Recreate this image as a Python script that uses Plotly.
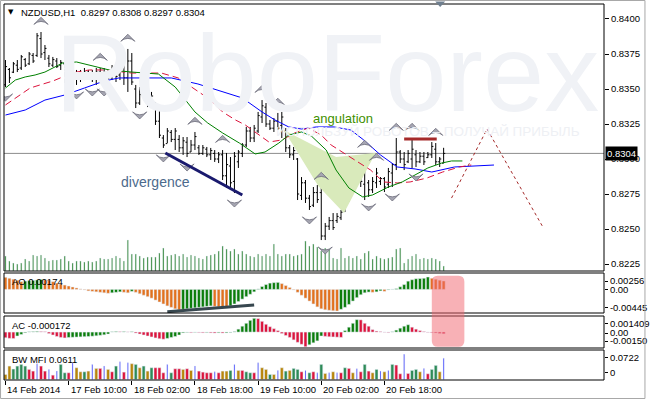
import plotly.graph_objects as go

# ---------------- data ----------------
TITLE = "NZDUSD,H1  0.8297 0.8308 0.8297 0.8304"
BAR_IDX = list(range(112))
OPEN = [0.8353,0.8364,0.8362,0.8367,0.8365,0.8371,0.8368,0.8374,0.8374,0.8386,
        0.8376,0.8372,0.8367,0.8370,0.8367,0.8368,0.8359,0.8362,0.8357,0.8361,
        0.8358,0.8362,0.8360,0.8357,0.8362,0.8359,0.8362,0.8358,0.8364,0.8360,
        0.8365,0.8358,0.8370,0.8350,0.8340,0.8346,0.8344,0.8340,0.8340,0.8327,
        0.8315,0.8311,0.8319,0.8314,0.8314,0.8308,0.8312,0.8305,0.8310,0.8308,
        0.8304,0.8307,0.8303,0.8304,0.8300,0.8303,0.8288,0.8295,0.8284,0.8298,
        0.8304,0.8310,0.8320,0.8315,0.8320,0.8330,0.8337,0.8325,0.8322,0.8327,
        0.8324,0.8320,0.8308,0.8303,0.8300,0.8274,0.8283,0.8272,0.8267,0.8276,
        0.8276,0.8245,0.8252,0.8256,0.8256,0.8258,0.8264,0.8280,0.8288,0.8285,
        0.8290,0.8282,0.8283,0.8278,0.8283,0.8284,0.8286,0.8282,0.8290,0.8296,
        0.8305,0.8300,0.8298,0.8300,0.8303,0.8298,0.8302,0.8301,0.8303,0.8307,
        0.8298,0.8297]
HIGH = [0.83707,0.83650,0.83693,0.83707,0.83743,0.83721,0.83764,0.83757,0.83900,0.83907,
        0.83814,0.83743,0.83729,0.83721,0.83707,0.83686,0.83671,0.83686,0.83636,0.83636,
        0.83650,0.83636,0.83636,0.83650,0.83650,0.83650,0.83636,0.83671,0.83686,0.83686,
        0.83693,0.83786,0.83757,0.83529,0.83514,0.83514,0.83493,0.83479,0.83407,0.83350,
        0.83171,0.83221,0.83207,0.83221,0.83171,0.83157,0.83157,0.83136,0.83193,0.83100,
        0.83100,0.83086,0.83079,0.83064,0.83050,0.83064,0.83043,0.83014,0.83050,0.83064,
        0.83114,0.83229,0.83229,0.83243,0.83336,0.83421,0.83400,0.83279,0.83293,0.83329,
        0.83336,0.83221,0.83100,0.83086,0.83007,0.82871,0.82850,0.82743,0.82800,0.82814,
        0.82800,0.82543,0.82586,0.82614,0.82614,0.82636,0.82829,0.82921,0.82921,0.82936,
        0.82921,0.83029,0.82850,0.82871,0.82936,0.82871,0.82871,0.82936,0.82971,0.83150,
        0.83064,0.83050,0.83064,0.83150,0.83064,0.83050,0.83050,0.83050,0.83121,0.83114,
        0.83014,0.83080]
LOW = [0.83514,0.83543,0.83614,0.83621,0.83636,0.83657,0.83671,0.83686,0.83729,0.83721,
       0.83707,0.83657,0.83657,0.83650,0.83636,0.83543,0.83586,0.83550,0.83529,0.83550,
       0.83564,0.83579,0.83550,0.83529,0.83564,0.83550,0.83543,0.83564,0.83550,0.83564,
       0.83529,0.83479,0.83529,0.83364,0.83386,0.83421,0.83371,0.83386,0.83243,0.83150,
       0.83079,0.83114,0.83121,0.83064,0.83050,0.83029,0.83014,0.83050,0.83064,0.83029,
       0.83029,0.83014,0.82993,0.82979,0.82971,0.82850,0.82793,0.82800,0.82757,0.82936,
       0.83014,0.83086,0.83121,0.83121,0.83186,0.83257,0.83229,0.83207,0.83193,0.83207,
       0.83150,0.83050,0.83007,0.82993,0.82707,0.82707,0.82686,0.82636,0.82657,0.82686,
       0.82421,0.82421,0.82493,0.82493,0.82543,0.82564,0.82621,0.82693,0.82800,0.82829,
       0.82800,0.82707,0.82729,0.82757,0.82793,0.82814,0.82764,0.82793,0.82800,0.82921,
       0.82971,0.82921,0.82971,0.82936,0.82943,0.82971,0.82957,0.83007,0.83007,0.82957,
       0.82943,0.82970]
CLOSE = [0.8366,0.8358,0.8368,0.8364,0.8373,0.8367,0.8375,0.8370,0.8388,0.8375,
         0.8379,0.8368,0.8371,0.8366,0.8369,0.8357,0.8364,0.8357,0.8361,0.8357,
         0.8362,0.8360,0.8357,0.8362,0.8359,0.8362,0.8358,0.8364,0.8359,0.8365,
         0.8358,0.8370,0.8355,0.8340,0.8346,0.8344,0.8340,0.8345,0.8327,0.8317,
         0.8310,0.8320,0.8314,0.8320,0.8308,0.8313,0.8304,0.8310,0.8316,0.8304,
         0.8308,0.8303,0.8306,0.8300,0.8303,0.8288,0.8296,0.8283,0.8302,0.8305,
         0.8310,0.8320,0.8315,0.8322,0.8331,0.8338,0.8325,0.8322,0.8327,0.8322,
         0.8330,0.8308,0.8303,0.8306,0.8275,0.8283,0.8272,0.8266,0.8276,0.8271,
         0.8245,0.8252,0.8256,0.8251,0.8259,0.8262,0.8280,0.8288,0.8283,0.8290,
         0.8284,0.8295,0.8278,0.8284,0.8290,0.8286,0.8280,0.8291,0.8296,0.8305,
         0.8300,0.8296,0.8304,0.8307,0.8298,0.8302,0.8298,0.8303,0.8309,0.8298,
         0.8300,0.8304]
VOLUME = [150,100,80,70,80,120,100,160,150,160,
          130,100,110,110,120,150,100,80,100,100,
          90,100,90,100,130,120,120,130,150,130,
          100,310,170,170,150,130,140,140,140,180,
          230,150,160,170,150,170,140,160,150,130,
          120,150,160,170,200,250,220,200,220,170,
          200,170,150,140,170,150,170,150,270,170,
          150,170,170,150,160,170,300,250,270,240,
          200,230,220,130,120,230,130,150,130,150,
          120,180,200,120,150,130,120,130,140,220,
          230,80,120,150,170,120,130,120,130,120,
          100,50]

# Alligator lines (bar position, price)
JAW_X = [0,5,10,15,20,25,28.75,42,48.75,55,60,65,68.25,71.75,75,78.75,83.25,87.5,90.75,95,99.25,103.75,108,113.75,118.75,123.75]
JAW_Y = [0.83314,0.83350,0.83421,0.83457,0.83507,0.83557,0.83579,0.83579,0.83536,0.83479,0.83436,0.83336,0.83279,0.83229,0.83214,0.83229,0.83229,0.83207,0.83136,0.83029,0.82943,0.82929,0.82907,0.82943,0.82950,0.82957]
TEETH_X = [0,2.5,4.25,6.25,8.75,12,14.5,18,21.25,25.5,32,39.5,43.75,48.75,52,55,58.25,60.75,66.75,70,73.25,76.75,80,82.5,85.75,89.25,92.5,95.75,99.25,102.5,106.75,110.75,115,118]
TEETH_Y = [0.83386,0.83436,0.83471,0.83507,0.83529,0.83557,0.83586,0.83621,0.83636,0.83636,0.83614,0.83614,0.83579,0.83486,0.83421,0.83336,0.83279,0.83243,0.83121,0.83136,0.83186,0.83221,0.83171,0.83100,0.83043,0.82979,0.82921,0.82836,0.82829,0.82836,0.82864,0.82907,0.82943,0.82957]
LIPS_X = [0,2.5,5,7.5,10,12.5,14.5,18,21.25,23.75,26.25,32,38.75,43,45.5,48,51.25,55,59.25,63.25,65.75,69.25,71.75,75,77.5,81.25,83.75,87,90.5,93,97,100.5,103.75,107,110.5,113,115.75]
LIPS_Y = [0.83507,0.83564,0.83586,0.83600,0.83621,0.83657,0.83686,0.83693,0.83671,0.83650,0.83636,0.83621,0.83607,0.83514,0.83421,0.83336,0.83257,0.83186,0.83114,0.83036,0.83050,0.83114,0.83171,0.83193,0.83164,0.83064,0.82921,0.82793,0.82729,0.82743,0.82800,0.82836,0.82886,0.82936,0.82971,0.82986,0.82986]

FRACTAL_UP = [9,24,31,48,55,65,69,80,91,94,99,103,109]
FRACTAL_DOWN = [0,18,22,25,34,40,46,58,77,81,92,98,104]

# drawn objects
DIV_X = [40.5, 60]
DIV_Y = [0.83043, 0.82743]
RES_X = [101, 109.25]
RES_Y = [0.83143, 0.83143]
FC_X = [113, 122, 136]
FC_Y = [0.82721, 0.83214, 0.82521]
ANG_X = [70.5, 83.75, 93.75, 85.75, 79.25]
ANG_Y = [0.83207, 0.83014, 0.83043, 0.82614, 0.82807]
BID = 0.8304
PRICE_TICKS = [0.8225, 0.8250, 0.8275, 0.8300, 0.8325, 0.8350, 0.8375, 0.8400]

AO = [0.00250,0.00230,0.00210,0.00190,0.00160,0.00170,0.00180,0.00185,0.00195,0.00205,
      0.00200,0.00190,0.00160,0.00130,0.00110,0.00090,0.00070,0.00050,0.00030,0.00010,
      -0.00010,-0.00030,-0.00040,-0.00050,-0.00060,-0.00070,-0.00080,-0.00070,-0.00060,-0.00050,
      -0.00060,-0.00070,-0.00040,-0.00060,-0.00090,-0.00120,-0.00150,-0.00180,-0.00220,-0.00260,
      -0.00300,-0.00340,-0.00370,-0.00400,-0.00420,-0.00410,-0.00400,-0.00390,-0.00380,-0.00370,
      -0.00360,-0.00350,-0.00340,-0.00350,-0.00360,-0.00370,-0.00380,-0.00340,-0.00300,-0.00250,
      -0.00200,-0.00150,-0.00100,-0.00050,0.00010,0.00060,0.00100,0.00130,0.00140,0.00145,
      0.00120,0.00080,0.00040,-0.00010,-0.00060,-0.00120,-0.00180,-0.00240,-0.00300,-0.00360,
      -0.00400,-0.00420,-0.00430,-0.00440,-0.00445,-0.00410,-0.00370,-0.00310,-0.00240,-0.00170,
      -0.00110,-0.00070,-0.00055,-0.00060,-0.00050,-0.00030,-0.00040,-0.00010,0.00005,0.00015,
      0.00055,0.00100,0.00170,0.00200,0.00220,0.00225,0.00230,0.00256,0.00230,0.00210,
      0.00190,0.00174]
AO_DIV_X = [41, 63]
AO_DIV_Y = [-0.00460, -0.00321]
AO_LABELS = [0.00256, 0.0, -0.00445]

AC = [-0.000580,-0.000640,-0.000660,-0.000400,-0.000240,-0.000070,0.000030,0.000050,0.000070,0.000060,
      0.000040,-0.000150,-0.000300,-0.000450,-0.000550,-0.000600,-0.000550,-0.000530,-0.000510,-0.000490,
      -0.000470,-0.000450,-0.000420,-0.000380,-0.000330,-0.000280,-0.000200,0.000030,0.000060,0.000040,
      0.000050,0.000020,0.000040,-0.000100,-0.000200,-0.000300,-0.000400,-0.000500,-0.000600,-0.000680,
      -0.000730,-0.000650,-0.000550,-0.000450,-0.000300,-0.000080,-0.000040,-0.000060,-0.000030,-0.000050,
      -0.000070,-0.000050,-0.000080,-0.000100,-0.000070,-0.000100,-0.000080,-0.000050,0.000050,0.000300,
      0.000600,0.000900,0.001200,0.001409,0.001380,0.001100,0.000800,0.000550,0.000350,0.000150,
      -0.000150,-0.000350,-0.000550,-0.000800,-0.001050,-0.001250,-0.001500,-0.001300,-0.001100,-0.000900,
      -0.000400,-0.000440,-0.000480,-0.000500,-0.000520,-0.000540,0.000150,0.000500,0.000900,0.001270,
      0.001250,0.000900,0.000600,0.000250,0.000100,0.000050,-0.000020,-0.000050,0.000030,0.000200,
      0.000400,0.000600,0.000750,0.000500,0.000300,0.000150,0.000050,-0.000030,-0.000060,-0.000090,
      -0.000140,-0.000172]
AC_LABELS = [0.001409, 0.0, -0.00150]

BW = [0.0144,0.0385,0.0300,0.0385,0.0433,0.0385,0.0289,0.0241,0.0453,0.0385,
      0.0241,0.0289,0.0125,0.0241,0.0433,0.0193,0.0193,0.0482,0.0337,0.0221,
      0.0221,0.0241,0.0433,0.0318,0.0318,0.0385,0.0289,0.0221,0.0385,0.0510,
      0.0212,0.0482,0.0453,0.0433,0.0337,0.0385,0.0241,0.0337,0.0337,0.0337,
      0.0193,0.0433,0.0193,0.0308,0.0308,0.0289,0.0308,0.0260,0.0385,0.0241,
      0.0212,0.0193,0.0193,0.0221,0.0193,0.0241,0.0241,0.0260,0.0433,0.0260,
      0.0260,0.0221,0.0193,0.0193,0.0482,0.0337,0.0289,0.0144,0.0144,0.0260,
      0.0337,0.0241,0.0260,0.0318,0.0289,0.0221,0.0260,0.0193,0.0221,0.0193,
      0.0433,0.0173,0.0193,0.0221,0.0193,0.0193,0.0337,0.0318,0.0193,0.0308,
      0.0221,0.0433,0.0241,0.0193,0.0289,0.0241,0.0221,0.0260,0.0433,0.0414,
      0.0164,0.0722,0.0173,0.0260,0.0289,0.0221,0.0318,0.0164,0.0289,0.0404,
      0.0221,0.0611]
# G = green (MFI up, vol up), F = fade, B = fake, S = squat
BW_STATE = ("FFGGGGSSBS" "SBSBGGSBFF" "GFBFSBFSGB" "SBFGFGFGSS" "SBGSSFSFBS"
            "SSSBSFFGBF" "SGGSBFFGFB" "FGFGGSBGSB" "GFBFBSGSFB" "SGSFGBFBGS"
            "SBSGGFBSGG" "FB")
BW_LABELS = [0.0722, 0.0]

TICK_IDX = [0, 16, 32, 48, 64, 80, 96]
TICK_TEXT = ["14 Feb 2014", "17 Feb 10:00", "18 Feb 02:00", "18 Feb 18:00",
             "19 Feb 10:00", "20 Feb 02:00", "20 Feb 18:00"]
AO_TEXT = "AO 0.00174"
AC_TEXT = "AC -0.000172"
BW_TEXT = "BW MFI 0.0611"

# ---------------- layout geometry / style ----------------
W, H = 654, 400
ML, MR, MT, MB = 4, 42, 4, 20
PW, PH = W - ML - MR, H - MT - MB
FONT = "Liberation Sans, Arial, sans-serif"
FS = 9.5


def py(ypx):
    return (H - MB - ypx) / PH


def pxp(xpx):
    return (xpx - ML) / PW


DOM_MAIN = [py(271), 1.0]
DOM_AO = [py(313), py(273)]
DOM_AC = [py(348), py(316)]
DOM_BW = [0.0, py(350)]
XR = [-0.375, 151.625]
PR_RANGE = [0.82200, 0.841071]
AO_RANGE = [-0.004862, 0.003385]
AC_RANGE = [-0.00163, 0.001645]
BW_RANGE = [-0.0014, 0.0845]


def per_px(rng, dom):
    return (rng[1] - rng[0]) / ((dom[1] - dom[0]) * PH)


GREEN = "#0a7d0a"
ORANGE = "#e2711d"
RED = "#dc143c"
BW_COL = {"G": "#2e8b57", "F": "#b8860b", "B": "#0000ff", "S": "#dc143c"}

fig = go.Figure()

# angulation highlight
fig.add_trace(go.Scatter(x=ANG_X + ANG_X[:1], y=ANG_Y + ANG_Y[:1], mode="lines",
                         fill="toself", fillcolor="#d9eabb", line=dict(width=0),
                         xaxis="x", yaxis="y2", hoverinfo="skip"))
# volumes
fig.add_trace(go.Bar(x=BAR_IDX, y=VOLUME, marker_color="#006a00", width=0.3,
                     xaxis="x", yaxis="y"))
# alligator
fig.add_trace(go.Scatter(x=JAW_X, y=JAW_Y, mode="lines", line=dict(color="#0000ff", width=1),
                         xaxis="x", yaxis="y2"))
fig.add_trace(go.Scatter(x=TEETH_X, y=TEETH_Y, mode="lines",
                         line=dict(color=RED, width=1, dash="7px,4px"), xaxis="x", yaxis="y2"))
fig.add_trace(go.Scatter(x=LIPS_X, y=LIPS_Y, mode="lines", line=dict(color="#008000", width=1),
                         xaxis="x", yaxis="y2"))
# price bars
fig.add_trace(go.Ohlc(x=BAR_IDX, open=OPEN, high=HIGH, low=LOW, close=CLOSE,
                      increasing=dict(line=dict(color="black", width=1)),
                      decreasing=dict(line=dict(color="black", width=1)),
                      tickwidth=0.4, xaxis="x", yaxis="y2"))
# fractals
fig.add_trace(go.Scatter(x=FRACTAL_UP, y=[HIGH[i] + 0.00105 for i in FRACTAL_UP], mode="markers",
                         marker=dict(symbol="arrow-wide", size=10, color="#a6a6b2",
                                     line=dict(color="#6e6e7c", width=0.8)),
                         xaxis="x", yaxis="y2"))
fig.add_trace(go.Scatter(x=FRACTAL_DOWN, y=[LOW[i] - 0.00100 for i in FRACTAL_DOWN], mode="markers",
                         marker=dict(symbol="arrow-wide", size=10, angle=180, color="#a6a6b2",
                                     line=dict(color="#6e6e7c", width=0.8)),
                         xaxis="x", yaxis="y2"))
# drawings
fig.add_trace(go.Scatter(x=DIV_X, y=DIV_Y, mode="lines", line=dict(color="#1a1a6e", width=3),
                         xaxis="x", yaxis="y2"))
fig.add_trace(go.Scatter(x=RES_X, y=RES_Y, mode="lines", line=dict(color="#a52a2a", width=3),
                         xaxis="x", yaxis="y2"))
fig.add_trace(go.Scatter(x=FC_X, y=FC_Y, mode="lines", line=dict(color="#a52a2a", width=1, dash="dot"),
                         xaxis="x", yaxis="y2"))

# AO
ao_col = [ORANGE if i == 0 or AO[i] <= AO[i - 1] else GREEN for i in BAR_IDX]
fig.add_trace(go.Bar(x=BAR_IDX, y=AO, marker_color=ao_col, width=0.75, xaxis="x2", yaxis="y3"))
fig.add_trace(go.Scatter(x=AO_DIV_X, y=AO_DIV_Y, mode="lines", line=dict(color="#37474f", width=3),
                         xaxis="x2", yaxis="y3"))
# AC
ac_col = [RED if i == 0 or AC[i] <= AC[i - 1] else GREEN for i in BAR_IDX]
fig.add_trace(go.Bar(x=BAR_IDX, y=AC, marker_color=ac_col, width=0.75, xaxis="x3", yaxis="y4"))
# BW MFI
fig.add_trace(go.Bar(x=BAR_IDX, y=BW, marker_color=[BW_COL[s] for s in BW_STATE],
                     width=[0.25 if s == "B" else 0.75 for s in BW_STATE],
                     xaxis="x4", yaxis="y5"))

ax_common = dict(range=XR, showgrid=False, zeroline=False, showticklabels=False,
                 fixedrange=True, showline=False)
tickfont = dict(family=FONT, size=FS, color="black")


def sub_y(dom, rng, labels, fmt, insets):
    k = per_px(rng, dom)
    vals = [v - ins * k for v, ins in zip(labels, insets)]
    return dict(domain=dom, range=rng, side="right", showgrid=False, zeroline=False,
                tickvals=vals, ticktext=[fmt(v) for v in labels], ticks="outside",
                ticklen=3, tickcolor="black", tickfont=tickfont, showline=False)


fig.update_layout(
    width=W, height=H, margin=dict(l=ML, r=MR, t=MT, b=MB),
    paper_bgcolor="white", plot_bgcolor="white", showlegend=False, barmode="overlay",
    xaxis=dict(**ax_common, anchor="y", rangeslider=dict(visible=False)),
    xaxis2=dict(**ax_common, anchor="y3", matches="x"),
    xaxis3=dict(**ax_common, anchor="y4", matches="x"),
    xaxis4=dict(range=XR, showgrid=False, zeroline=False, showticklabels=False, anchor="y5",
                matches="x", tickvals=TICK_IDX, ticks="outside", ticklen=4, tickcolor="black"),
    yaxis=dict(domain=DOM_MAIN, range=[0, 2670], visible=False),
    yaxis2=dict(domain=DOM_MAIN, range=PR_RANGE, overlaying="y", side="right", anchor="x",
                showgrid=False, zeroline=False, tickvals=PRICE_TICKS,
                ticktext=[f"{v:.4f}" for v in PRICE_TICKS], ticks="outside", ticklen=4,
                tickcolor="black", tickfont=tickfont),
    yaxis3=sub_y(DOM_AO, AO_RANGE, AO_LABELS,
                 lambda v: "0.00" if v == 0 else f"{v:.5f}", [4, 0, -3.3]),
    yaxis4=sub_y(DOM_AC, AC_RANGE, AC_LABELS,
                 lambda v: "0.00" if v == 0 else (f"{v:.6f}" if v > 0 else f"{v:.5f}"), [5, 1, -5.7]),
    yaxis5=sub_y(DOM_BW, BW_RANGE, BW_LABELS,
                 lambda v: "0" if v == 0 else f"{v:.4f}", [3.4, -6.8]),
)

shapes = []
for dom in (DOM_MAIN, DOM_AO, DOM_AC, DOM_BW):
    shapes.append(dict(type="rect", xref="paper", yref="paper", x0=0, x1=1, y0=dom[0], y1=dom[1],
                       line=dict(color="black", width=1), layer="above"))
shapes.append(dict(type="line", xref="paper", yref="y2", x0=0, x1=1, y0=BID, y1=BID,
                   line=dict(color="#8c8c8c", width=1), layer="below"))
# highlight box across AO / AC
bx0, bx1 = 108.0, 116.25
by0, by1 = py(346.7), py(275.7)
rx, ry = 1.5, 6 / PH
shapes.append(dict(type="path", xref="x", yref="paper", layer="above",
                   path=(f"M{bx0+rx},{by0} L{bx1-rx},{by0} Q{bx1},{by0} {bx1},{by0+ry} "
                         f"L{bx1},{by1-ry} Q{bx1},{by1} {bx1-rx},{by1} L{bx0+rx},{by1} "
                         f"Q{bx0},{by1} {bx0},{by1-ry} L{bx0},{by0+ry} Q{bx0},{by0} {bx0+rx},{by0} Z"),
                   fillcolor="rgba(242,100,110,0.5)", line=dict(width=0)))
# chart-shift marker on top border
shapes.append(dict(type="path", xref="paper", yref="paper",
                   path=f"M{pxp(441)},{py(1.5)} L{pxp(451)},{py(1.5)} L{pxp(446)},{py(7)} Z",
                   fillcolor="#6f7f8f", line=dict(width=0)))
# outer window frame
shapes.append(dict(type="rect", xref="paper", yref="paper", x0=pxp(0.5), x1=pxp(653.5),
                   y0=py(398.5), y1=py(0.5), line=dict(color="#a8a8a8", width=1)))
fig.update_layout(shapes=shapes)

ann = []
# watermark
ann.append(dict(text="RoboForex", xref="paper", yref="paper", x=pxp(54), y=py(72),
                xanchor="left", yanchor="middle", showarrow=False,
                font=dict(family=FONT, size=110, color="#f0f2f6")))
ann.append(dict(text="ИСПОЛЬЗУЙ РОБОТОВ – ПОЛУЧАЙ ПРИБЫЛЬ", xref="paper", yref="paper",
                x=pxp(590), y=py(131), xanchor="right", yanchor="middle", showarrow=False,
                font=dict(family=FONT, size=13.5, color="#eef0f4")))
ann.append(dict(text="▼", xref="paper", yref="paper", x=pxp(11), y=py(12), xanchor="center",
                yanchor="middle", showarrow=False, font=dict(family="DejaVu Sans", size=7, color="black")))
ann.append(dict(text=TITLE, xref="paper", yref="paper", x=pxp(19), y=py(12), xanchor="left",
                yanchor="middle", showarrow=False, font=dict(family=FONT, size=FS, color="black")))
ann.append(dict(text="divergence", xref="x", yref="y2", x=38, y=0.82836, showarrow=False,
                font=dict(family=FONT, size=14, color="#4c6a8c")))
ann.append(dict(text="angulation", xref="x", yref="y2", x=85.5, y=0.83286, showarrow=False,
                font=dict(family=FONT, size=13, color="#3f8f00")))
ann.append(dict(text=AO_TEXT, xref="paper", yref="paper", x=pxp(10), y=py(281.5), xanchor="left",
                yanchor="middle", showarrow=False, font=dict(family=FONT, size=FS, color="black")))
ann.append(dict(text=AC_TEXT, xref="paper", yref="paper", x=pxp(10), y=py(325.7), xanchor="left",
                yanchor="middle", showarrow=False, font=dict(family=FONT, size=FS, color="black")))
ann.append(dict(text=BW_TEXT, xref="paper", yref="paper", x=pxp(10), y=py(359.3), xanchor="left",
                yanchor="middle", showarrow=False, font=dict(family=FONT, size=FS, color="black")))
ann.append(dict(text=f"{BID:.4f}", xref="paper", yref="y2", x=1.0, y=BID, xanchor="left",
                yanchor="middle", xshift=1, showarrow=False, bgcolor="black", borderpad=1,
                font=dict(family=FONT, size=FS, color="white")))
for i, t in zip(TICK_IDX, TICK_TEXT):
    ann.append(dict(text=t, xref="x4", yref="paper", x=i, y=py(389.5), xanchor="left",
                    yanchor="middle", xshift=0, showarrow=False,
                    font=dict(family=FONT, size=FS, color="black")))
fig.update_layout(annotations=ann)

# remove the page's default 8px body margin so the figure fills the window exactly
fig.write_html("out.html", config={"displayModeBar": False},
               post_script="document.body.style.margin='0';document.body.style.overflow='hidden';")
